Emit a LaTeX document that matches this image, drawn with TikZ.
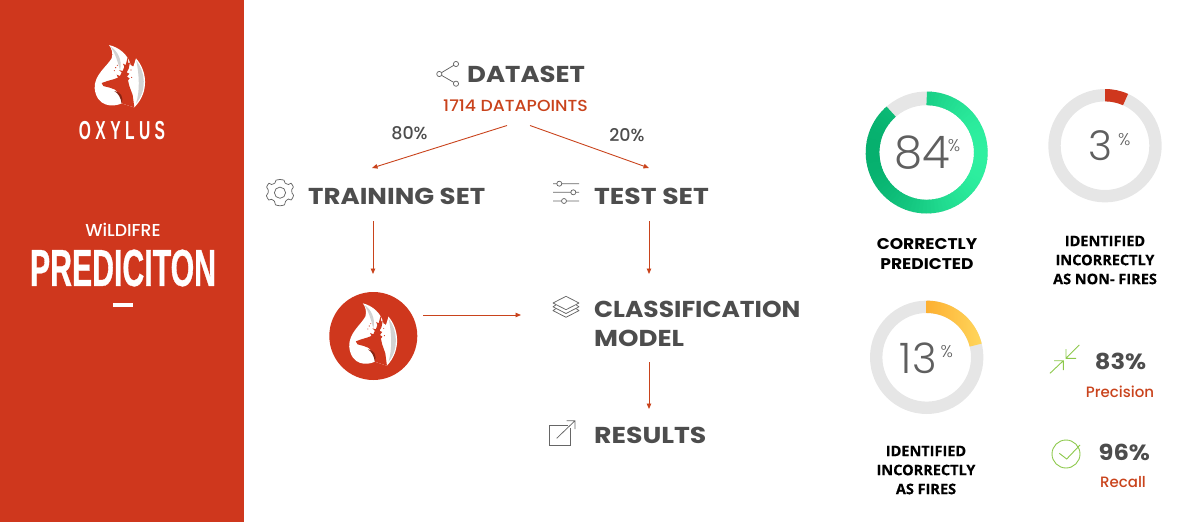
\documentclass[tikz,border=0pt]{standalone}
\usepackage{fontspec}
\usetikzlibrary{arrows.meta}
\setmainfont{Poppins}
\newfontfamily\boldf{Poppins}[UprightFont=*-Bold,FakeStretch=1.1]
\newfontfamily\medf{Poppins}[UprightFont=*-Medium]
\newfontfamily\medwide{Poppins}[UprightFont=*-Medium,FakeStretch=1.08]
\newfontfamily\lightf{Poppins}[UprightFont=*-Light]
\newfontfamily\labelf{Open Sans}[UprightFont=*-Bold,FakeBold=0.4]
\newfontfamily\condf{Liberation Sans}[UprightFont=* Bold,FakeStretch=0.582,FakeBold=0.6]
\newfontfamily\condsp{Liberation Sans}[UprightFont=* Bold,FakeStretch=0.6,LetterSpace=17]
\definecolor{brand}{HTML}{CF371D}
\definecolor{arrowc}{HTML}{C9431C}
\definecolor{ink}{HTML}{4D4D4D}
\definecolor{iconc}{HTML}{666666}
\definecolor{ringc}{HTML}{E6E6E6}
\definecolor{leaf}{HTML}{8CC84B}
\definecolor{greenlo}{RGB}{6,176,110}
\definecolor{greenhi}{RGB}{46,240,160}
\tikzset{
  heading/.style={font=\boldf\fontsize{23}{23}\selectfont,text=ink,inner sep=0pt,anchor=west},
  stat/.style={font=\boldf\fontsize{22}{22}\selectfont,text=ink,inner sep=0pt},
  note/.style={font=\medf\fontsize{15}{15}\selectfont,text=arrowc,inner sep=0pt},
  pct/.style={font=\medf\fontsize{17.5}{17.5}\selectfont,text=ink,inner sep=0pt},
  rowlabel/.style={font=\labelf\fontsize{14.5}{14.5}\selectfont,text=black,inner sep=0pt},
  rowbig/.style={font=\boldf\fontsize{15.5}{15.5}\selectfont,text=black,inner sep=0pt},
  bignum/.style={font=\lightf\fontsize{#1}{#1}\selectfont,text=ink!90,inner sep=0pt},
  smallpc/.style={font=\lightf\fontsize{17}{17}\selectfont,text=ink!90,inner sep=0pt},
  flow/.style={draw=arrowc,line width=.9pt,-{Triangle[length=5.5pt,width=4.5pt]}},
  glyph/.style={draw=iconc,line width=.75pt,fill=none},
  glyphg/.style={draw=leaf,line width=.9pt,fill=none},
  flame/.pic={
    \begin{scope}[shift={(-120,-56.67)},scale=1/3]
      \fill[white] (327,75) .. controls (358,82) and (385,105) .. (392,135)
        -- (400,140) -- (408,115) .. controls (440,150) and (450,215) .. (403,262)
        -- (365,250) .. controls (340,262) and (290,262) .. (284,205)
        .. controls (282,165) and (320,140) .. (335,115)
        .. controls (340,100) and (335,85) .. (327,75) -- cycle;
      \fill[gray!35] (332,80) .. controls (352,92) and (368,120) .. (360,150)
        .. controls (352,120) and (344,98) .. (332,80) -- cycle;
      \fill[gray!35] (409,122) .. controls (436,155) and (442,212) .. (408,250)
        .. controls (420,215) and (418,165) .. (409,122) -- cycle;
      \fill[brand] (305,189) -- (322,183) -- (340,178) -- (354,173) -- (350,164) -- (360,168)
        -- (365,157) -- (357,150) -- (368,153) -- (373,140) -- (369,131) -- (377,135)
        -- (383,112) -- (385,130) -- (390,127) -- (386,146) -- (380,157) -- (388,161)
        -- (381,170) -- (389,175) -- (384,181) -- (388,198) -- (398,225)
        -- (403,262) -- (365,250) .. controls (368,228) and (350,206) .. (330,203)
        -- (310,198) -- cycle;
      \fill[brand] (347,143) circle (2) (352,136) circle (1.6) (343,152) circle (1.6) (395,172) circle (1.8) (393,150) circle (1.6);
      \fill[brand!65!black] (343,213) .. controls (362,215) and (372,232) .. (365,250)
        .. controls (362,232) and (355,220) .. (343,213) -- cycle;
    \end{scope}
  }
}
\begin{document}
\begin{tikzpicture}[x=1pt,y=-1pt]
\useasboundingbox (0,0) rectangle (1200,522);
% sidebar
\fill[brand] (0,0) rectangle (244,522);
\pic at (120,76.7) {flame};
\node[font=\condsp\fontsize{26}{26}\selectfont,text=white,inner sep=0pt] (brandname) at (122,130.5) {OXYLUS};
\node[font=\medf\fontsize{17.3}{17.3}\selectfont,text=white,inner sep=0pt] (wild) at (123,230) {WiLDIFRE};
\node[font=\condf\fontsize{52}{52}\selectfont,text=white,inner sep=0pt] (pred) at (123,268) {PREDICITON};
\fill[white] (113,303) rectangle (133,307);
% flow text
\node[heading,xscale=1.026] (dataset) at (467,74.5) {DATASET};
\node[font=\medwide\fontsize{16}{16}\selectfont,text=arrowc,inner sep=0pt] (points) at (515.5,105.5) {1714 DATAPOINTS};
\node[pct] (p80) at (409.5,133) {80\%};
\node[pct] (p20) at (627,135) {20\%};
\node[heading,xscale=1.03] (train) at (308,196.5) {TRAINING SET};
\node[heading,xscale=1.055] (test) at (594,196.5) {TEST SET};
\node[heading,xscale=.986] (cls1) at (594,309.5) {CLASSIFICATION};
\node[heading,xscale=1.03] (cls2) at (594,338.5) {MODEL};
\node[heading,xscale=1.057] (res) at (594,435.5) {RESULTS};
% connector ends
\coordinate (a0) at (507,125.5);
\coordinate (a1) at (372,168);
\coordinate (b0) at (530,125.5);
\coordinate (b1) at (649,168);
\coordinate (c0) at (373,221);
\coordinate (c1) at (373,274);
\coordinate (d0) at (649,221);
\coordinate (d1) at (649,274);
\coordinate (e0) at (423,315);
\coordinate (e1) at (521,315);
\coordinate (f0) at (649,362);
\coordinate (f1) at (649,409);
\draw[flow] (a0) -- (a1);
\draw[flow] (b0) -- (b1);
\draw[flow] (c0) -- (c1);
\draw[flow] (d0) -- (d1);
\draw[flow] (e0) -- (e1);
\draw[flow] (f0) -- (f1);
% logo circle
\fill[brand] (373.3,336) circle (44);
\pic[xscale=.95] at (373.3,335) {flame};
% share icon
\draw[glyph] (456,64) circle (2.6) (439.3,74) circle (2.6) (456,83.7) circle (2.6);
\draw[glyph] (441.6,72.6) -- (453.8,65.3) (441.6,75.4) -- (453.8,82.4);
% gear icon
\draw[glyph] (280,192.7) circle (5.6);
\draw[glyph,line join=round] plot[smooth cycle,tension=.35] coordinates {
 (280,179.5) (284,180.2) (285,183) (288.5,184.5) (291,183.2) (293.4,187) (291.8,189.5) (292,193) (293.6,195.5) (291.3,200) (288.5,199) (285.5,201.3) (284.5,204.8) (280,205.8) (275.5,204.8) (274.5,201.3) (271.5,199.3) (268.7,200) (266.4,195.7) (268.1,193) (268.1,189.5) (266.6,187) (269,183.2) (271.5,184.5) (275,183) (276,180.2)};
% sliders icon
\draw[glyph] (553,183.7) -- (556.8,183.7) (561.8,183.7) -- (579,183.7) (559.3,183.7) circle (2.5);
\draw[glyph] (553,192.3) -- (570.8,192.3) (575.8,192.3) -- (579,192.3) (573.3,192.3) circle (2.5);
\draw[glyph] (553,201) -- (561.5,201) (566.5,201) -- (579,201) (564,201) circle (2.5);
% layers icon
\draw[glyph,line join=round] (566,296.3) -- (579,303) -- (566,309.7) -- (553,303) -- cycle;
\draw[glyph,line join=round] (556,304.8) -- (553,306.8) -- (566,313.5) -- (579,306.8) -- (576,304.8);
\draw[glyph,line join=round] (556,308.6) -- (553,310.6) -- (566,317.3) -- (579,310.6) -- (576,308.6);
% export icon
\draw[glyph] (568,425) -- (549.7,425) -- (549.7,445.7) -- (570.7,445.7) -- (570.7,428);
\draw[glyph] (556.7,438.3) -- (575,420.7) (566.5,420.7) -- (575,420.7) -- (575,429);
% ring 84
\begin{scope}[shift={(926.7,152.5)},yscale=-1]
  \fill[ringc,even odd rule] (0,0) circle (61) (0,0) circle (47.3);
  \foreach \a in {90,86,...,-226} {
    \pgfmathsetmacro{\mixpc}{50+50*cos(\a)}
    \pgfmathsetmacro{\aend}{max(\a-5,-229)}
    \colorlet{segc}{greenhi!\mixpc!greenlo}
    \draw[segc,line width=13.7pt] (\a:54.15) arc (\a:\aend:54.15);
  }
\end{scope}
% ring 3
\begin{scope}[shift={(1105,145.7)},yscale=-1]
  \fill[ringc,even odd rule] (0,0) circle (56.7) (0,0) circle (44.3);
  \fill[brand] (90:56.7) arc (90:66:56.7) -- (66:44.3) arc (66:90:44.3) -- cycle;
\end{scope}
% ring 13
\begin{scope}[shift={(926.7,357.3)},yscale=-1]
  \fill[ringc,even odd rule] (0,0) circle (56.7) (0,0) circle (44.3);
  \shade[left color={rgb,255:red,253;green,176;blue,50},right color={rgb,255:red,255;green,214;blue,92}]
    (90:56.7) arc (90:14:56.7) -- (14:44.3) arc (14:90:44.3) -- cycle;
\end{scope}
\node[bignum=45] (n84) at (922.3,152.7) {84};
\node[smallpc] (s84) at (954,146) {\%};
\node[bignum=41] (n3) at (1100.7,145.7) {3};
\node[smallpc] (s3) at (1124.3,139.3) {\%};
\node[bignum=42] (n13) at (918.3,358) {13};
\node[smallpc] (s13) at (946.7,351.7) {\%};
% labels
\node[rowbig] (l1a) at (927,244.5) {CORRECTLY};
\node[rowbig] (l1b) at (927,264) {PREDICTED};
\node[rowlabel] (l2a) at (1105,241) {IDENTIFIED};
\node[rowlabel] (l2b) at (1105,260) {INCORRECTLY};
\node[rowlabel] (l2c) at (1105,279) {AS NON- FIRES};
\node[rowlabel] (l3a) at (926,451) {IDENTIFIED};
\node[rowlabel] (l3b) at (926,470) {INCORRECTLY};
\node[rowlabel] (l3c) at (926,489) {AS FIRES};
% stats
\draw[glyphg] (1079.3,345) -- (1066,358.3) (1066,349) -- (1066,358.3) -- (1076,358.3);
\draw[glyphg] (1050,373.3) -- (1063.3,360.7) (1054,360.7) -- (1063.3,360.7) -- (1063.3,370);
\node[stat] (v83) at (1120.5,361.7) {83\%};
\node[note] (prec) at (1120,392) {Precision};
\draw[glyphg] (1066,454) circle (14);
\draw[glyphg] (1059.3,453.3) -- (1066.7,459) -- (1080,445);
\node[stat] (v96) at (1124.3,452.3) {96\%};
\node[note] (rec) at (1123,482) {Recall};
\end{tikzpicture}
\end{document}
